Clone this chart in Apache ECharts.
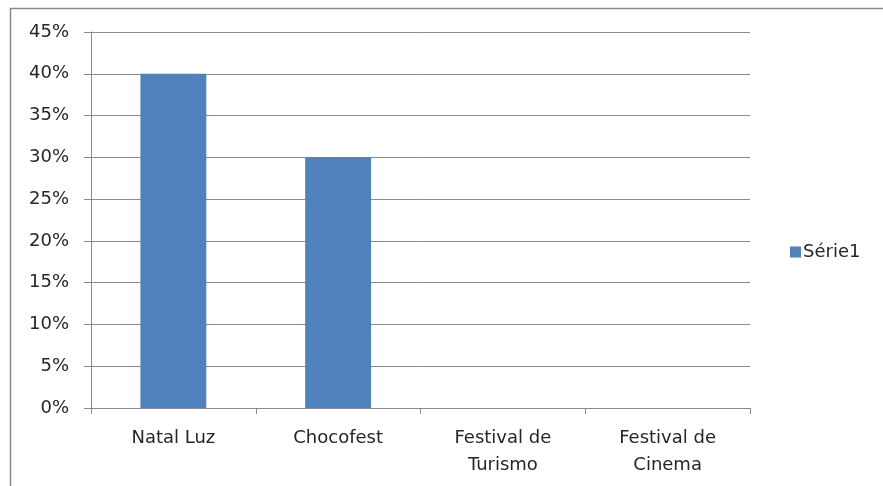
<!DOCTYPE html>
<html>
<head>
<meta charset="utf-8">
<script src="https://cdn.jsdelivr.net/npm/echarts@6/dist/echarts.min.js"></script>
<style>
  html, body { margin: 0; padding: 0; background: #fff; }
  #chart { width: 883px; height: 486px; }
</style>
</head>
<body>
<div id="chart"></div>
<script>
const categories = ['Natal Luz', 'Chocofest', 'Festival de\nTurismo', 'Festival de\nCinema'];
const serie1 = [40, 30, 0, 0];
const seriesName = 'Série1';

const gray = '#8a8a8a';
const textColor = '#262626';
const font = 'DejaVu Sans';
const fontSize = 18;

const chart = echarts.init(document.getElementById('chart'));

chart.setOption({
  animation: false,
  graphic: [
    {
      type: 'rect',
      shape: { x: 10.5, y: 8.5, width: 900, height: 500 },
      style: { fill: 'none', stroke: gray, lineWidth: 1.5 },
      silent: true,
    },
  ],
  legend: {
    data: [seriesName],
    orient: 'vertical',
    left: 785,
    top: 238,
    itemWidth: 11,
    itemHeight: 11,
    itemGap: 4,
    icon: 'rect',
    textStyle: { fontFamily: font, fontSize: fontSize, color: textColor, padding: [0, 0, 0, -3] },
  },
  grid: { left: 91, right: 133, top: 32, bottom: 78 },
  xAxis: {
    type: 'category',
    data: categories,
    axisLine: { lineStyle: { color: gray, width: 1 } },
    axisTick: { show: true, length: 6, lineStyle: { color: gray } },
    axisLabel: {
      margin: 17,
      fontFamily: font,
      fontSize: fontSize,
      lineHeight: 27,
      color: textColor,
      interval: 0,
    },
  },
  yAxis: {
    type: 'value',
    min: 0,
    max: 45,
    interval: 5,
    axisLine: { show: true, lineStyle: { color: gray, width: 1 } },
    axisTick: { show: true, length: 7, lineStyle: { color: gray } },
    splitLine: { lineStyle: { color: gray, width: 1 } },
    axisLabel: {
      margin: 22,
      fontFamily: font,
      fontSize: fontSize,
      color: textColor,
      formatter: (v) => v + '%',
    },
  },
  series: [
    {
      name: seriesName,
      type: 'bar',
      data: serie1,
      barWidth: '40%',
      itemStyle: { color: '#4F81BD' },
    },
  ],
});
</script>
</body>
</html>
